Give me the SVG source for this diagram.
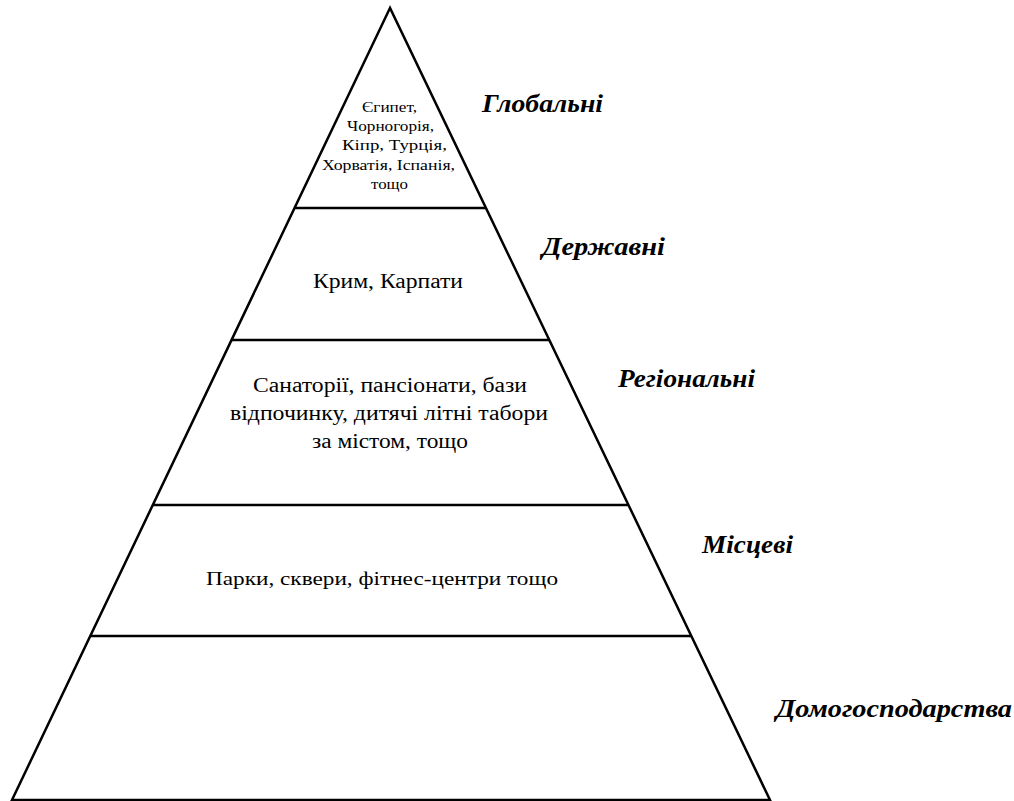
<svg xmlns="http://www.w3.org/2000/svg" width="1014" height="801" viewBox="0 0 1014 801">
<style>
.ln{stroke:#000;stroke-width:2.5;fill:none}
.t{font-family:"Liberation Serif","Times New Roman",serif;fill:#000}
.lb{font-family:"Liberation Serif","Times New Roman",serif;font-weight:bold;font-style:italic;fill:#000;font-size:25px}
</style>
<rect width="1014" height="801" fill="#fff"/>
<g id="pyramid">
<polygon class="ln" points="390,8 12,800 770,800"/>
</g>
<g id="connectors">
<line class="ln" x1="295" y1="208" x2="486" y2="208"/>
<line class="ln" x1="232" y1="340" x2="549" y2="340"/>
<line class="ln" x1="153" y1="505" x2="628" y2="505"/>
<line class="ln" x1="91" y1="636" x2="691" y2="636"/>
</g>
<g id="level-global">
<g class="t" font-size="15">
<text x="362" y="112" textLength="55" lengthAdjust="spacingAndGlyphs">Єгипет,</text>
<text x="347" y="131" textLength="87" lengthAdjust="spacingAndGlyphs">Чорногорія,</text>
<text x="342" y="150" textLength="105" lengthAdjust="spacingAndGlyphs">Кіпр, Турція,</text>
<text x="322" y="170" textLength="133" lengthAdjust="spacingAndGlyphs">Хорватія, Іспанія,</text>
<text x="371" y="189" textLength="37" lengthAdjust="spacingAndGlyphs">тощо</text>
</g>
<text class="lb" x="482" y="112" textLength="121" lengthAdjust="spacingAndGlyphs">Глобальні</text>
</g>
<g id="level-state">
<text class="t" font-size="20" x="313" y="288" textLength="150" lengthAdjust="spacingAndGlyphs">Крим, Карпати</text>
<text class="lb" x="542" y="255" textLength="123" lengthAdjust="spacingAndGlyphs">Державні</text>
</g>
<g id="level-regional">
<g class="t" font-size="20">
<text x="253" y="392" textLength="274" lengthAdjust="spacingAndGlyphs">Санаторії, пансіонати, бази</text>
<text x="230" y="420" textLength="318" lengthAdjust="spacingAndGlyphs">відпочинку, дитячі літні табори</text>
<text x="312" y="448" textLength="156" lengthAdjust="spacingAndGlyphs">за містом, тощо</text>
</g>
<text class="lb" x="618" y="387" textLength="137" lengthAdjust="spacingAndGlyphs">Регіональні</text>
</g>
<g id="level-local">
<text class="t" font-size="19" x="206" y="585" textLength="352" lengthAdjust="spacingAndGlyphs">Парки, сквери, фітнес-центри тощо</text>
<text class="lb" x="702" y="553" textLength="91" lengthAdjust="spacingAndGlyphs">Місцеві</text>
</g>
<g id="level-household">
<text class="lb" x="776" y="717" textLength="236" lengthAdjust="spacingAndGlyphs">Домогосподарства</text>
</g>
</svg>
